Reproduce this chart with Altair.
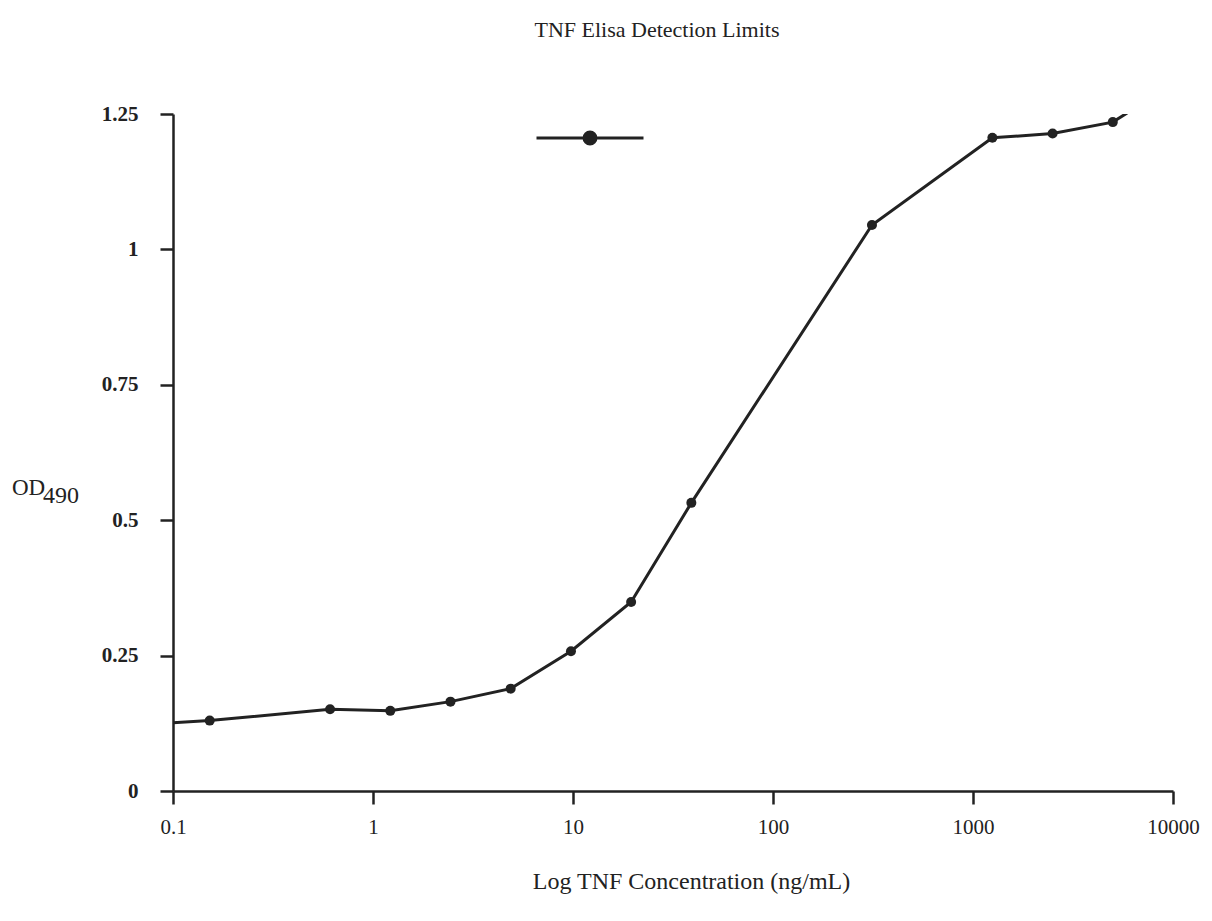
import altair as alt
import pandas as pd

# TNF standard curve (2-fold dilutions)
conc = [0.1, 0.1526, 0.61, 1.22, 2.44, 4.88, 9.77, 19.53, 39.06, 312.5, 1250, 2500, 5000, 5900]
od = [0.126, 0.130, 0.151, 0.148, 0.165, 0.189, 0.258, 0.349, 0.532, 1.045, 1.206, 1.214, 1.235, 1.252]
has_marker = [False, True, True, True, True, True, True, True, True, True, True, True, True, False]
series_name = ["TNF"] * len(conc)

x_ticks = [0.1, 1, 10, 100, 1000, 10000]
y_ticks = [0, 0.25, 0.5, 0.75, 1, 1.25]

df = pd.DataFrame({"conc": conc, "od": od, "marker": has_marker, "series": series_name})

INK = "#222222"
FONT = "Liberation Serif"

x_scale = alt.Scale(type="log", domain=[0.1, 10000])
y_scale = alt.Scale(domain=[0, 1.25], nice=False)

x_enc = alt.X(
    "conc:Q",
    scale=x_scale,
    axis=alt.Axis(
        values=x_ticks,
        labelExpr="'' + datum.value",
        title="Log TNF Concentration (ng/mL)",
        titleFont=FONT,
        titleFontSize=24,
        titleFontWeight="normal",
        titleColor=INK,
        titleX=518,
        titleY=97,
        titleAlign="center",
        titleBaseline="alphabetic",
        labelFont=FONT,
        labelFontSize=21,
        labelColor=INK,
        labelPadding=12,
        tickSize=13,
        tickWidth=2.5,
        tickColor=INK,
        domainColor=INK,
        domainWidth=2.5,
        grid=False,
        labelFlush=False,
    ),
)
y_enc = alt.Y(
    "od:Q",
    scale=y_scale,
    axis=alt.Axis(
        values=y_ticks,
        labelExpr="'' + datum.value",
        title="OD",
        titleFont=FONT,
        titleFontSize=23,
        titleFontWeight="normal",
        titleColor=INK,
        titleAngle=0,
        titleX=-145,
        titleY=373,
        titleAlign="center",
        titleBaseline="middle",
        labelFont=FONT,
        labelFontSize=21,
        labelFontWeight="bold",
        labelColor=INK,
        labelPadding=22,
        tickSize=13,
        tickWidth=2.5,
        tickColor=INK,
        domainColor=INK,
        domainWidth=2.5,
        grid=False,
        labelFlush=False,
    ),
)

legend_path = (
    "M-1,0H1"
    "M0.112,0A0.112,0.112,0,1,1,-0.112,0A0.112,0.112,0,1,1,0.112,0Z"
)

line = alt.Chart(df).mark_line(strokeWidth=3, clip=True, color=INK).encode(
    x=x_enc, y=y_enc, order="conc:Q"
)

points = (
    alt.Chart(df)
    .transform_filter("datum.marker")
    .mark_point(filled=True, size=100, opacity=1)
    .encode(
        x=alt.X("conc:Q", scale=x_scale),
        y=alt.Y("od:Q", scale=y_scale),
        color=alt.Color(
            "series:N",
            scale=alt.Scale(range=[INK]),
            legend=alt.Legend(
                orient="none",
                legendX=362,
                legendY=-31,
                title=None,
                labelExpr="''",
                symbolType=legend_path,
                symbolSize=11449,
                padding=0,
                symbolOffset=0,
                symbolStrokeWidth=3,
                symbolStrokeColor=INK,
                symbolFillColor=INK,
                symbolOpacity=1,
            ),
        ),
    )
)

# subscript of the y-axis title "OD490"
subscript = alt.Chart(pd.DataFrame({"t": ["490"]})).mark_text(
    font=FONT, fontSize=24, color=INK, align="left", baseline="middle"
).encode(text="t:N", x=alt.value(-130), y=alt.value(382))

chart = (
    alt.layer(line, points, subscript)
    .properties(
        width=1000,
        height=677,
        background="white",
        autosize=alt.AutoSizeParams(type="none"),
        padding={"left": 173, "top": 114, "right": 39, "bottom": 130},
        title=alt.Title(
            "TNF Elisa Detection Limits",
            font=FONT,
            fontSize=22,
            fontWeight="normal",
            color=INK,
            anchor="middle",
            offset=41,
            dx=-16,
        ),
    )
    .configure_view(strokeOpacity=0, strokeWidth=0)
)

chart.save("out.html", embed_options={"renderer": "svg", "actions": False})
